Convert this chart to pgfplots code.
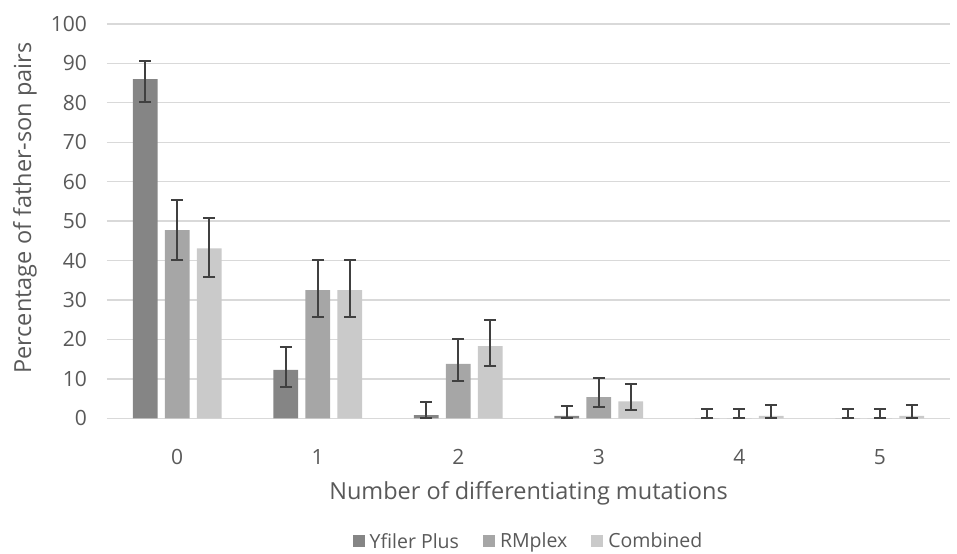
\documentclass[border=0pt]{standalone}
\usepackage{pgfplots}
\pgfplotsset{compat=1.18}
\usepackage{pgfplotstable}
\usepackage{fontspec}
\setmainfont{Open Sans}
\definecolor{txt}{HTML}{595959}
\definecolor{grd}{HTML}{D9D9D9}
\definecolor{cY}{HTML}{858585}
\definecolor{cR}{HTML}{A6A6A6}
\definecolor{cC}{HTML}{CACACA}
\definecolor{err}{HTML}{404040}
\pgfplotstableread{
x Y Yp Ym R Rp Rm C Cp Cm
0 86.0 4.7 5.7 47.7 7.6 7.6 43.1 7.8 7.3
1 12.3 5.7 4.4 32.5 7.6 6.7 32.5 7.6 6.7
2 0.8 3.3 0.8 13.8 6.4 4.4 18.3 6.7 5.1
3 0.6 2.6 0.6 5.4 4.7 2.6 4.3 4.3 2.3
4 0.0 2.3 0.0 0.0 2.3 0.0 0.6 2.8 0.6
5 0.0 2.3 0.0 0.0 2.3 0.0 0.6 2.8 0.6
}\data
\begin{document}
\begin{tikzpicture}
\path (-107pt,-134.7pt) rectangle (850pt,418.3pt);
\begin{axis}[
  at={(0,0)}, anchor=south west,
  scale only axis, width=843pt, height=394.4pt,
  xmin=-0.5, xmax=5.5, ymin=0, ymax=100,
  ytick={0,10,...,100}, xtick=data,
  ybar=7.4pt, bar width=24.6pt,
  axis line style={draw=none}, tick style={draw=none},
  ymajorgrids, major grid style={grd, line width=1.3pt},
  font=\fontsize{21}{24}\selectfont, text=txt,
  /pgf/number format/assume math mode=true,
  yticklabel style={anchor=east, inner sep=0pt, xshift=-20pt, text=txt},
  xticklabel style={anchor=north, inner sep=0pt, yshift=-27pt, text=txt},
  xlabel={Number of differentiating mutations},
  xlabel style={at={(axis description cs:0.5,0)}, anchor=north, inner sep=0pt, yshift=-63pt, font=\fontsize{23.5}{26}\selectfont, text=txt},
  ylabel={Percentage of father-son pairs},
  ylabel style={at={(axis description cs:0,0.5)}, anchor=center, inner sep=0pt, yshift=82pt, xshift=13pt, font=\fontsize{23.5}{26}\selectfont, text=txt},
  legend style={at={(axis description cs:0.5,0)}, anchor=center, yshift=-123pt, draw=none, fill=none, font=\fontsize{19.5}{22}\selectfont, text=txt, legend cell align=left,
    /tikz/every odd column/.append style={column sep=3pt},
    /tikz/every even column/.append style={column sep=22pt}},
  legend columns=-1,
  legend image code/.code={\fill[#1] (0pt,-6pt) rectangle (12pt,6pt);},
  error bars/y dir=both, error bars/y explicit,
  error bars/error bar style={err, line width=2pt},
  error bars/error mark options={rotate=90, mark size=6pt, line width=2pt, err},
]
\addplot[fill=cY, draw=none] table[x=x, y=Y, y error plus=Yp, y error minus=Ym]{\data};
\addplot[fill=cR, draw=none] table[x=x, y=R, y error plus=Rp, y error minus=Rm]{\data};
\addplot[fill=cC, draw=none] table[x=x, y=C, y error plus=Cp, y error minus=Cm]{\data};
\legend{Yfiler Plus, RMplex, Combined}
\end{axis}
\end{tikzpicture}
\end{document}
